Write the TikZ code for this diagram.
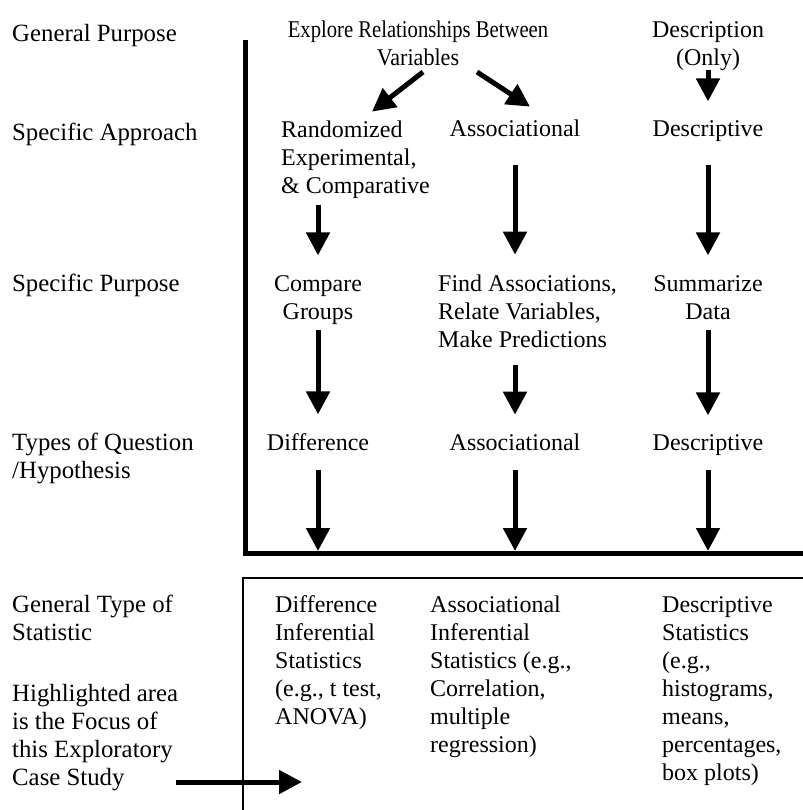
\documentclass[tikz,border=0pt]{standalone}
\usepackage{fontspec}
\usepackage{graphicx}
\setmainfont{Liberation Serif}
\usetikzlibrary{arrows.meta}
\begin{document}
\begin{tikzpicture}[x=1pt,y=-1pt,
  every node/.style={inner sep=0pt, font=\fontsize{24}{28}\selectfont},
  lbl/.style={anchor=base west, align=left, font=\fontsize{24.8}{28}\selectfont},
  ctr/.style={anchor=base, align=center},
  lft/.style={anchor=base west, align=left},
  arr/.style={line width=5pt, -{Triangle[length=23pt,width=23pt]}},
  frameline/.style={line width=5pt},
  boxline/.style={line width=1.3pt}]
\useasboundingbox (0,0) rectangle (802,810);

% row labels (multi-line nodes are placed by the baseline of their last line)
\node[lbl] (gp)  at (12,42)  {General Purpose};
\node[lbl] (sa)  at (12,141) {Specific Approach};
\node[lbl] (sp)  at (12,291) {Specific Purpose};
\node[lbl] (tq)  at (12,478) {Types of Question\\/Hypothesis};
\node[lbl] (gt)  at (12,640) {General Type of\\Statistic};
\node[lbl] (hl)  at (12,785) {Highlighted area\\is the Focus of\\this Exploratory\\Case Study};

% general purpose
\node[ctr] (explore) at (418,66) {\scalebox{0.86}[1]{Explore Relationships Between}\\\scalebox{0.92}[1]{Variables}};
\node[ctr] (descr)   at (708,66) {Description\\(Only)};

% specific approach
\node[lft] (rand)   at (281,194) {Randomized\\Experimental,\\\& Comparative};
\node[ctr] (assoc)  at (515,137) {Associational};
\node[ctr] (desc)   at (708,137) {Descriptive};

% specific purpose
\node[ctr] (cmp)  at (318,319) {Compare\\Groups};
\node[lft] (find) at (438,347) {Find Associations,\\Relate Variables,\\Make Predictions};
\node[ctr] (summ) at (708,319) {Summarize\\Data};

% question types
\node[ctr] (qdiff)  at (318,450) {Difference};
\node[ctr] (qassoc) at (515,450) {Associational};
\node[ctr] (qdesc)  at (708,450) {Descriptive};

% heavy frame around the highlighted area
\coordinate (ftop) at (245,40);
\coordinate (fcorner) at (245,553);
\coordinate (fright) at (805,553);
\draw[frameline] (ftop) -- (fcorner) -- (fright);

% box of statistics
\coordinate (btl) at (243,578);
\draw[boxline] (243,815) -- (btl) -- (805,578);

\node[lft] (sdiff)  at (275,724) {Difference\\Inferential\\Statistics\\(e.g., t test,\\ANOVA)};
\node[lft] (sassoc) at (430,752) {Associational\\Inferential\\Statistics (e.g.,\\Correlation,\\multiple\\regression)};
\node[lft] (sdesc)  at (662,780) {Descriptive\\Statistics\\(e.g.,\\histograms,\\means,\\percentages,\\box plots)};

% connectors
\draw[arr] ([shift={(5,6)}]explore.base) -- ([shift={(91,-9.5)}]rand.north west);
\draw[arr] ([shift={(59,6)}]explore.base) -- ([shift={(15,-13.5)}]assoc.north);
\draw[arr] ([shift={(0,4)}]descr.base) -- ([shift={(0,-19.5)}]desc.north);

\draw[arr] ([shift={(0,11)}]rand.base -| cmp.base) -- ([shift={(0,-19.5)}]cmp.north);
\draw[arr] ([shift={(0,28)}]assoc.base) -- ([shift={(0,-19.5)}]find.north -| assoc.base);
\draw[arr] ([shift={(0,28)}]desc.base) -- ([shift={(0,-19.5)}]summ.north);

\draw[arr] ([shift={(0,11)}]cmp.base) -- ([shift={(0,-18.5)}]qdiff.north);
\draw[arr] ([shift={(0,18)}]find.base -| qassoc.base) -- ([shift={(0,-18.5)}]qassoc.north);
\draw[arr] ([shift={(0,11)}]summ.base) -- ([shift={(0,-18.5)}]qdesc.north);

\draw[arr] ([shift={(0,20)}]qdiff.base)  -- ([shift={(0,-2)}]qdiff.base |- fcorner);
\draw[arr] ([shift={(0,20)}]qassoc.base) -- ([shift={(0,-2)}]qassoc.base |- fcorner);
\draw[arr] ([shift={(0,20)}]qdesc.base)  -- ([shift={(0,-2)}]qdesc.base |- fcorner);

\coordinate (focus) at (302,782);
\draw[arr] ([shift={(-2,-3)}]hl.base -| hl.east) -- (focus);
\end{tikzpicture}
\end{document}
